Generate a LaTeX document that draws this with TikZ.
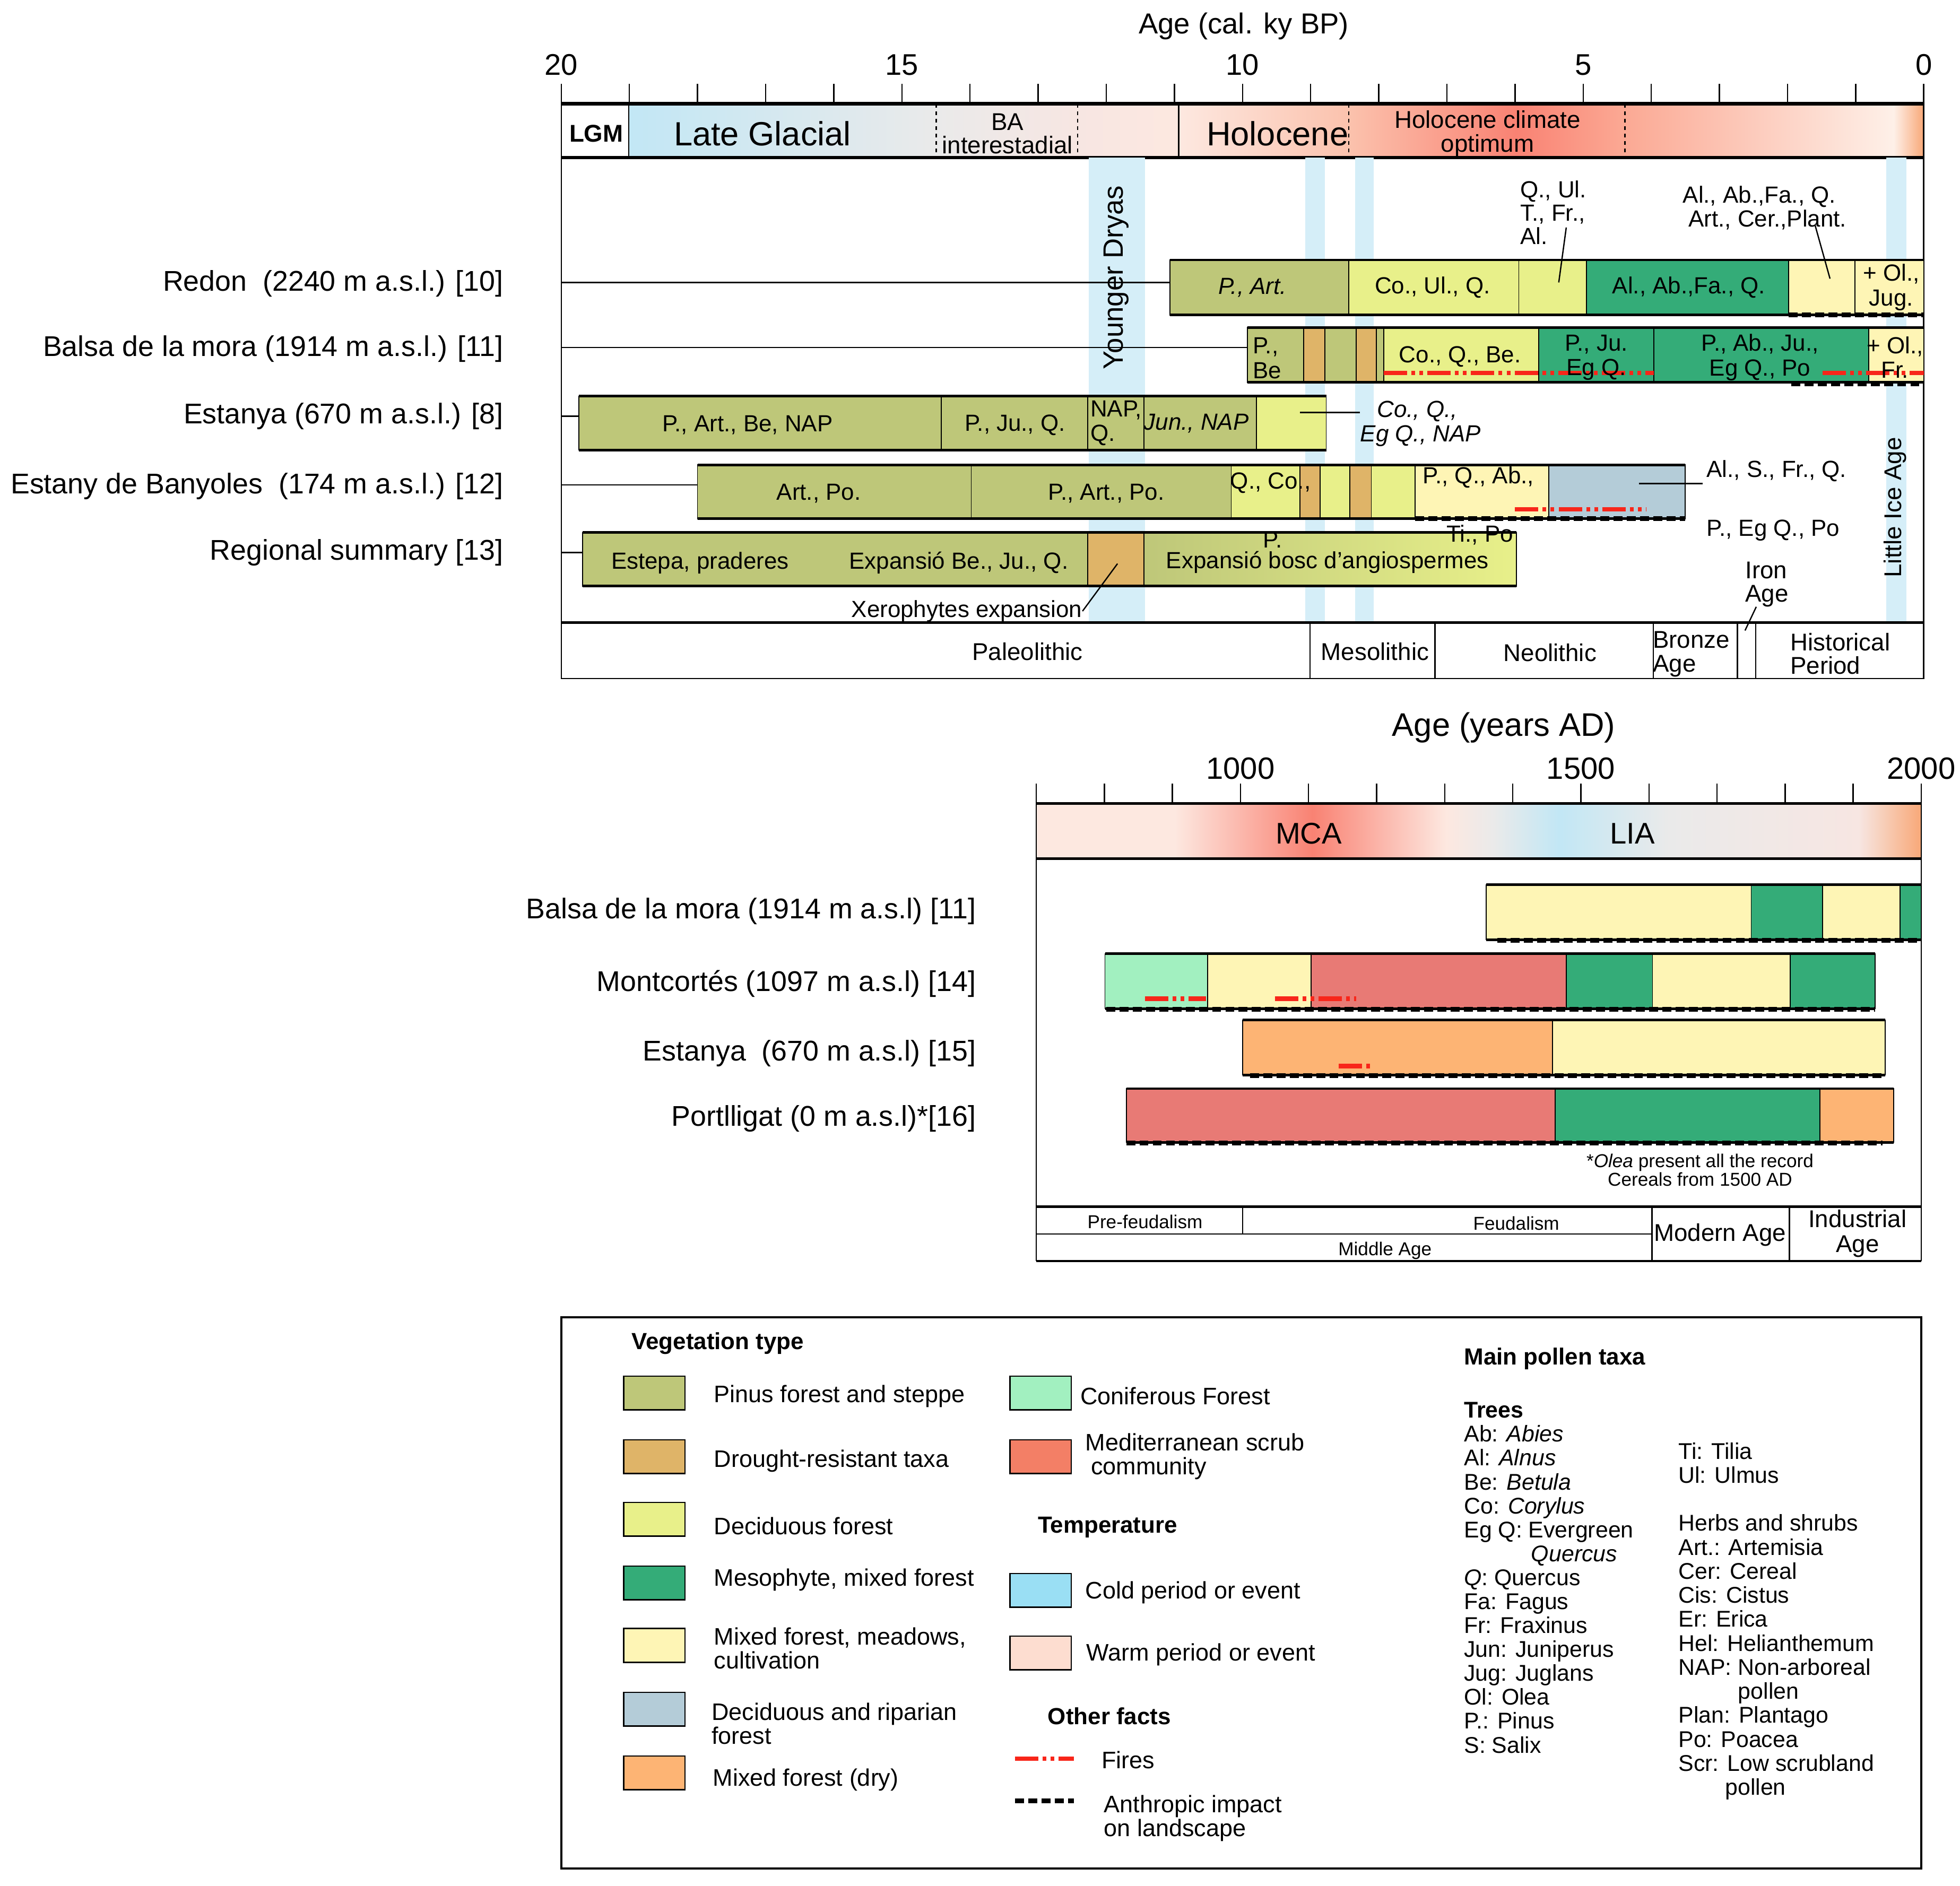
\documentclass[tikz,border=0pt]{standalone}
\usepackage{fontspec}
\setmainfont{Liberation Sans}

% vegetation colours
\definecolor{pinus}{HTML}{BEC779}
\definecolor{drought}{HTML}{DFB468}
\definecolor{decid}{HTML}{E8F08A}
\definecolor{meso}{HTML}{34AC78}
\definecolor{mixed}{HTML}{FEF5B5}
\definecolor{ripar}{HTML}{B4CCD8}
\definecolor{drymix}{HTML}{FDB474}
\definecolor{conif}{HTML}{A2F0C0}
\definecolor{medscrub}{HTML}{E87A75}
\definecolor{medleg}{HTML}{F37F66}
\definecolor{coldleg}{HTML}{9ADFF4}
\definecolor{warmleg}{HTML}{FDDDD0}
\definecolor{coldband}{HTML}{D5EEF8}
\definecolor{fire}{HTML}{F8261A}
% climate bar stops
\definecolor{glacA}{HTML}{C2E7F5}
\definecolor{greyA}{HTML}{EAEAEA}
\definecolor{baB}{HTML}{F7E6E2}
\definecolor{pinkA}{HTML}{FDE8E0}
\definecolor{holoA}{HTML}{FBC2AD}
\definecolor{hotA}{HTML}{F98273}
\definecolor{hotB}{HTML}{FBA994}
\definecolor{paleA}{HTML}{FEF0E8}
\definecolor{orngA}{HTML}{F8A878}

\tikzset{
  seg/.style={draw=black, line width=0.5pt},
  edge/.style={line width=1.4pt},
  thinline/.style={line width=0.7pt},
  fireline/.style={draw=fire, line width=2.4pt, dash pattern=on 12.5pt off 2.3pt on 2pt off 2.3pt on 2pt off 2.3pt},
  humanline/.style={draw=black, line width=2.6pt, dash pattern=on 4.8pt off 2.3pt},
  bartext/.style={font=\fontsize{12.5}{13.2}\selectfont, inner sep=0pt, align=center},
  rowtext/.style={font=\fontsize{15.3}{18}\selectfont, inner sep=0pt, anchor=east},
  legtext/.style={font=\fontsize{12.8}{12.8}\selectfont, inner sep=0pt, anchor=west, align=left},
  legbold/.style={font=\bfseries\fontsize{12.5}{14}\selectfont, inner sep=0pt, anchor=west},
  taxa/.style={font=\fontsize{12.2}{13}\selectfont, inner sep=0pt, anchor=base west},
  swatch/.style={draw=black, line width=0.7pt},
}

% top, bottom, left end, right end, segments x1/x2/colour
\newcommand{\vegbar}[5]{%
  \foreach \xa/\xb/\col in {#5} \filldraw[seg, fill=\col] (\xa,#1) rectangle (\xb,#2);
  \draw[edge] (#3,#1) -- (#4,#1) (#3,#2) -- (#4,#2);
}

\begin{document}
\begin{tikzpicture}[x=0.02356cm, y=-0.02356cm]
\useasboundingbox (0,0) rectangle (1568,1509);

% ================= cal. ky BP panel =================
\node[font=\fontsize{15.5}{17}\selectfont] (bptitle) at (995,21) {Age (cal. ky BP)};
\foreach \yr in {0,5,10,15,20}
  \node[font=\fontsize{16}{18}\selectfont] (bp\yr) at ({1539-54.5*\yr},52) {\yr};
\foreach \k in {0,...,20}
  \draw[thinline] ({1539-54.5*\k},67) -- ({1539-54.5*\k},83);

% climate bar
\fill[white] (449,83) rectangle (503,126);
\shade[left color=glacA, right color=greyA] (503,83) rectangle (749,126);
\shade[left color=greyA, right color=baB] (749,83) rectangle (862,126);
\shade[left color=baB, right color=pinkA] (862,83) rectangle (943,126);
\shade[left color=pinkA, right color=holoA] (943,83) rectangle (1079,126);
\shade[left color=holoA, right color=hotA] (1079,83) rectangle (1213,126);
\shade[left color=hotA, right color=hotB] (1213,83) rectangle (1300,126);
\shade[left color=hotB, right color=paleA] (1300,83) rectangle (1515,126);
\shade[left color=paleA, right color=orngA] (1515,83) rectangle (1539,126);
\draw[thinline] (503,83) -- (503,126) (943,83) -- (943,126)
  (449,83) -- (449,126) (1539,83) -- (1539,126);
\draw[thinline, dash pattern=on 2pt off 2pt] (749,83) -- (749,126) (862,83) -- (862,126)
  (1079,83) -- (1079,126) (1300,83) -- (1300,126);
\draw[line width=1.8pt] (449,83) -- (1539,83) (449,126) -- (1539,126);

\node[font=\bfseries\fontsize{13}{14}\selectfont] (lgm) at (477,107) {LGM};
\node[font=\fontsize{18}{20}\selectfont] (lateglacial) at (610,107) {Late Glacial};
\node[font=\fontsize{13}{12.6}\selectfont, align=center, inner sep=0pt] (bainter) at (806,107) {BA\\interestadial};
\node[font=\fontsize{18}{20}\selectfont] (holocene) at (1022,107) {Holocene};
\node[font=\fontsize{13}{12.6}\selectfont, align=center, inner sep=0pt] (hco) at (1190,107) {Holocene climate\\optimum};

% cold events
\foreach \xa/\xb in {871/916, 1044/1060, 1084/1099, 1509/1525}
  \fill[coldband] (\xa,126) rectangle (\xb,498);
\node[rotate=90, font=\fontsize{15}{17}\selectfont] (yd) at (893,222) {Younger Dryas};
\node[rotate=90, font=\fontsize{13}{15}\selectfont] (lia) at (1516,406) {Little Ice Age};

\draw[thinline] (449,126) -- (449,543) (1539,126) -- (1539,543);

% sites
\node[rowtext] (redon) at (403,227) {Redon\ \ (2240 m a.s.l.) [10]};
\node[rowtext] (balsa) at (403,279) {Balsa de la mora (1914 m a.s.l.) [11]};
\node[rowtext] (estanya) at (403,333) {Estanya (670 m a.s.l.) [8]};
\node[rowtext] (banyoles) at (403,389) {Estany de Banyoles\ \ (174 m a.s.l.) [12]};
\node[rowtext] (regional) at (403,442) {Regional summary [13]};
\draw[thinline] (449,226) -- (936,226) (449,278) -- (998,278) (449,333) -- (463,333)
  (449,388) -- (558,388) (449,442) -- (466,442);

% Redon
\vegbar{208}{252}{936}{1539}{936/1079/pinus, 1079/1215/decid, 1215/1269/decid, 1269/1431/meso, 1431/1484/mixed, 1484/1539/mixed}
\draw[humanline] (1431,252) -- (1539,252);
\node[bartext, font=\itshape\fontsize{12.5}{13.2}\selectfont] (redonA) at (1002,230) {P., Art.};
\node[bartext] (redonB) at (1146,230) {Co., Ul., Q.};
\node[bartext] (redonC) at (1351,230) {Al., Ab.,Fa., Q.};
\node[bartext] (redonD) at (1513,230) {+ Ol.,\\Jug.};
\node[bartext, align=left, anchor=west, font=\fontsize{12.5}{12.6}\selectfont] (redonQ) at (1216,170) {Q., Ul.\\T., Fr.,\\Al.};
\node[bartext, align=left, anchor=west, font=\fontsize{12.5}{12.8}\selectfont] (redonAl) at (1346,166.5) {Al., Ab.,Fa., Q.\\\hspace*{3pt}Art., Cer.,Plant.};
\coordinate (redonQa) at (1253,182);
\coordinate (redonQb) at (1247,226);
\coordinate (redonAla) at (1452,180);
\coordinate (redonAlb) at (1464,223);
\draw[thinline] (redonQa) -- (redonQb);
\draw[thinline] (redonAla) -- (redonAlb);

% Balsa de la mora
\vegbar{262}{306}{998}{1539}{998/1043/pinus, 1043/1060/drought, 1060/1085/pinus, 1085/1101/drought, 1101/1107/pinus, 1107/1231/decid, 1231/1323/meso, 1323/1495/meso, 1495/1539/mixed}
\draw[fireline] (1107,298.5) -- (1323,298.5);
\draw[fireline] (1458,298.5) -- (1539,298.5);
\draw[humanline] (1433,307) -- (1539,307);
\node[bartext, align=left, anchor=west] (balsaA) at (1002,286.5) {P.,\\Be};
\node[bartext] (balsaB) at (1168,285.5) {Co., Q., Be.};
\node[bartext] (balsaC) at (1277,286) {P., Ju.\\Eg Q.};
\node[bartext] (balsaD) at (1408,286) {P., Ab., Ju.,\\Eg Q., Po};
\node[bartext] (balsaE) at (1516,286) {+ Ol.,\\Fr.};

% Estanya
\vegbar{317}{360}{463}{1061}{463/753/pinus, 753/870/pinus, 870/915/pinus, 915/1005/pinus, 1005/1061/decid}
\node[bartext] (estA) at (598,340) {P., Art., Be, NAP};
\node[bartext] (estB) at (812,340) {P., Ju., Q.};
\node[bartext, align=left, anchor=west] (estC) at (872,338.5) {NAP,\\Q.};
\node[bartext, font=\itshape\fontsize{12.5}{13.2}\selectfont] (estD) at (957,339) {Jun., NAP};
\node[bartext, align=left, anchor=west, font=\itshape\fontsize{12.5}{13}\selectfont] (estE) at (1088,339) {\hspace*{9pt}Co., Q.,\\Eg Q., NAP};
\coordinate (estEa) at (1040,330);
\draw[thinline] (estEa) -- (estE.west |- estEa);

% Estany de Banyoles
\vegbar{372}{415}{558}{1348}{558/777/pinus, 777/985/pinus, 985/1040/decid, 1040/1056/drought, 1056/1080/decid, 1080/1097/drought, 1097/1132/decid, 1132/1239/mixed, 1239/1348/ripar}
\draw[fireline] (1212,407.6) -- (1317,407.6);
\draw[humanline] (1132,415) -- (1348,415);
\node[bartext] (banA) at (655,395) {Art., Po.};
\node[bartext] (banB) at (885,395) {P., Art., Po.};
\node[bartext, anchor=west] (banC) at (984,386.5) {Q., Co.,};
\node[bartext, anchor=west] (banD) at (1138,382) {P., Q., Ab.,};
\node[bartext, anchor=west] (banF) at (1365,377) {Al., S., Fr., Q.};
\node[bartext, anchor=west] (banG) at (1365,424.5) {P., Eg Q., Po};
\coordinate (banFa) at (1311,387);
\coordinate (banFb) at (1362,387);
\draw[thinline] (banFa) -- (banFb);

% Regional summary
\fill[pinus] (466,426) rectangle (870,469);
\fill[drought] (870,426) rectangle (915,469);
\shade[left color=pinus, right color=decid] (915,426) rectangle (1213,469);
\draw[seg] (466,426) rectangle (870,469) (870,426) rectangle (915,469) (915,426) rectangle (1213,469);
\draw[edge] (466,426) -- (1213,426) (466,469) -- (1213,469);
\node[bartext] (regA) at (560,450.5) {Estepa, praderes};
\node[bartext] (regB) at (767,450.5) {Expansió Be., Ju., Q.};
\node[bartext] (regC) at (1062,450) {Expansió bosc d’angiospermes};
\node[bartext] (banP) at (1018,432) {P.};
\node[bartext] (banE) at (1184,428) {Ti., Po};
\node[bartext, anchor=east] (xero) at (866,489) {Xerophytes expansion};
\coordinate (xeroa) at (894,451);
\draw[thinline] (xero.east) -- (xeroa);

% cultural periods
\fill[white] (449,498) rectangle (1539,543);
\draw[thinline] (449,498) rectangle (1539,543);
\draw[line width=1.5pt] (449,498) -- (1539,498);
\foreach \xa in {1048,1148,1322.6,1390,1404.5}
  \draw[thinline] (\xa,498) -- (\xa,543);
\node[bartext, font=\fontsize{13}{13}\selectfont] (paleo) at (822,521.5) {Paleolithic};
\node[bartext, font=\fontsize{13}{13}\selectfont] (meso) at (1100,521.5) {Mesolithic};
\node[bartext, font=\fontsize{13}{13}\selectfont] (neo) at (1240,522) {Neolithic};
\node[bartext, align=left, anchor=west, font=\fontsize{13}{12.7}\selectfont] (bronze) at (1322,523.5) {Bronze\\Age};
\node[bartext, align=left, anchor=west, font=\fontsize{13}{12.7}\selectfont] (hist) at (1432,523) {Historical\\Period};
\node[bartext, align=left, anchor=west, font=\fontsize{13}{12.7}\selectfont] (iron) at (1396,467.5) {Iron\\Age};
\coordinate (irona) at (1396,504.5);
\draw[thinline] (1405,485.5) -- (irona);

% ================= years AD panel =================
\node[font=\fontsize{17.5}{19}\selectfont] (adtitle) at (1203,582) {Age (years AD)};
\foreach \yr/\xa in {1000/992.4, 1500/1264.7, 2000/1537}
  \node[font=\fontsize{16.5}{18}\selectfont] (ad\yr) at (\xa,615) {\yr};
\foreach \k in {0,...,13}
  \draw[thinline] ({829+54.46*\k},627) -- ({829+54.46*\k},643);

\fill[pinkA] (829,643) rectangle (940,687);
\shade[left color=pinkA, right color=hotA] (940,643) rectangle (1050,687);
\shade[left color=hotA, right color=pinkA] (1050,643) rectangle (1157,687);
\shade[left color=pinkA, right color=greyA] (1157,643) rectangle (1195,687);
\shade[left color=greyA, right color=glacA] (1195,643) rectangle (1247,687);
\shade[left color=glacA, right color=greyA] (1247,643) rectangle (1335,687);
\shade[left color=greyA, right color=baB] (1335,643) rectangle (1487,687);
\shade[left color=baB, right color=orngA] (1487,643) rectangle (1537,687);
\draw[line width=1.5pt] (829,643) -- (1537,643) (829,687) -- (1537,687);
\draw[thinline] (829,643) -- (829,1009) (1537,643) -- (1537,1009);
\node[font=\fontsize{16}{18}\selectfont] (mca) at (1047,667) {MCA};
\node[font=\fontsize{16}{18}\selectfont] (liaad) at (1306,667) {LIA};

\node[rowtext] (balsaad) at (781,729) {Balsa de la mora (1914 m a.s.l) [11]};
\node[rowtext] (montc) at (781,787) {Montcortés (1097 m a.s.l) [14]};
\node[rowtext] (estad) at (781,843) {Estanya\ \ (670 m a.s.l) [15]};
\node[rowtext] (portl) at (781,895) {Portlligat (0 m a.s.l)*[16]};

\vegbar{708}{752}{1189}{1537}{1189/1401/mixed, 1401/1458/meso, 1458/1520/mixed, 1520/1537/meso}
\draw[humanline] (1198,752.5) -- (1537,752.5);
\vegbar{763}{807}{884}{1500}{884/966/conif, 966/1049/mixed, 1049/1253/medscrub, 1253/1322/meso, 1322/1432/mixed, 1432/1500/meso}
\draw[fireline] (916,799) -- (965,799);
\draw[fireline] (1020,799) -- (1085,799);
\draw[humanline] (885,807.5) -- (1500,807.5);
\vegbar{816}{860}{994}{1508}{994/1242/drymix, 1242/1508/mixed}
\draw[fireline] (1071,853) -- (1098,853);
\draw[humanline] (1000,860.5) -- (1506,860.5);
\vegbar{871}{914}{901}{1515}{901/1244/medscrub, 1244/1456/meso, 1456/1515/drymix}
\draw[humanline] (901,914.5) -- (1506,914.5);
\node[bartext, font=\fontsize{10}{10}\selectfont] (olea) at (1360,936) {*\textit{Olea} present all the record\\Cereals from 1500 AD};

% historical periods
\draw[line width=1.5pt] (829,965.6) -- (1537,965.6);
\draw[thinline] (829,987.3) -- (1321.5,987.3);
\draw[line width=1.2pt] (829,1009) -- (1537,1009);
\draw[thinline] (994,965.6) -- (994,987.3) (1321.5,965.6) -- (1321.5,1009) (1431.6,965.6) -- (1431.6,1009);
\node[bartext, font=\fontsize{10}{10}\selectfont] (prefeud) at (916,977.5) {Pre-feudalism};
\node[bartext, font=\fontsize{10}{10}\selectfont] (feud) at (1213,979) {Feudalism};
\node[bartext, font=\fontsize{10}{10}\selectfont] (middle) at (1108,1000.5) {Middle Age};
\node[bartext, font=\fontsize{13}{13}\selectfont] (modern) at (1376,988) {Modern Age};
\node[bartext, font=\fontsize{13}{13.2}\selectfont] (indus) at (1486,987) {Industrial\\Age};

% ================= legend =================
\draw[line width=1pt] (449,1054) rectangle (1537,1495);
\node[legbold] (vegtype) at (505,1075) {Vegetation type};
\foreach \col/\yy in {pinus/1101, drought/1152, decid/1202, meso/1253, mixed/1303, ripar/1354, drymix/1405}
  \filldraw[swatch, fill=\col] (499,\yy) rectangle (548,\yy+27);
\node[legtext] (lgA) at (571,1117) {Pinus forest and steppe};
\node[legtext] (lgB) at (571,1169) {Drought-resistant taxa};
\node[legtext] (lgC) at (571,1221) {Deciduous forest};
\node[legtext] (lgD) at (571,1264) {Mesophyte, mixed forest};
\node[legtext] (lgE) at (571,1319) {Mixed forest, meadows,\\cultivation};
\node[legtext] (lgF) at (569,1379) {Deciduous and riparian\\forest};
\node[legtext] (lgG) at (570,1424) {Mixed forest (dry)};

\foreach \col/\yy in {conif/1101, medleg/1152, coldleg/1259, warmleg/1309}
  \filldraw[swatch, fill=\col] (808,\yy) rectangle (857,\yy+27);
\node[legtext] (lgH) at (864,1117) {Coniferous Forest};
\node[legtext] (lgI) at (868,1165.5) {Mediterranean scrub\\\hspace*{3pt}community};
\node[legbold] (temp) at (830,1222) {Temperature};
\node[legtext] (lgJ) at (868,1274) {Cold period or event};
\node[legtext] (lgK) at (869,1324) {Warm period or event};
\node[legbold] (other) at (838,1373) {Other facts};
\coordinate (fireA) at (812,1407);
\coordinate (humA) at (812,1441);
\node[legtext] (lgL) at (881,1408) {Fires};
\node[legtext] (lgM) at (883,1455) {Anthropic impact\\on landscape};
\draw[fireline] (fireA) -- ++(47,0);
\draw[humanline] (humA) -- ++(47,0);

% pollen taxa
\node[legbold] (pollen) at (1171,1087) {Main pollen taxa};
\foreach \tx [count=\i from 0] in {{\textbf{Trees}}, {Ab: \textit{Abies}}, {Al: \textit{Alnus}}, {Be: \textit{Betula}}, {Co: \textit{Corylus}}, {Eg Q: Evergreen}, {\hspace*{36pt}\textit{Quercus}}, {\textit{Q}: Quercus}, {Fa: Fagus}, {Fr: Fraxinus}, {Jun: Juniperus}, {Jug: Juglans}, {Ol: Olea}, {P.: Pinus}, {S: Salix}}
  \node[taxa] (trees\i) at (1171,{1134.5+19.14*\i}) {\tx};
\foreach \tx [count=\i from 0] in {{Ti: Tilia}, {Ul: Ulmus}, {}, {Herbs and shrubs}, {Art.: Artemisia}, {Cer: Cereal}, {Cis: Cistus}, {Er: Erica}, {Hel: Helianthemum}, {NAP: Non-arboreal}, {\hspace*{32pt}pollen}, {Plan: Plantago}, {Po: Poacea}, {Scr: Low scrubland}, {\hspace*{25pt}pollen}}
  \node[taxa] (herbs\i) at (1342.5,{1167.4+19.2*\i}) {\tx};
\end{tikzpicture}
\end{document}
